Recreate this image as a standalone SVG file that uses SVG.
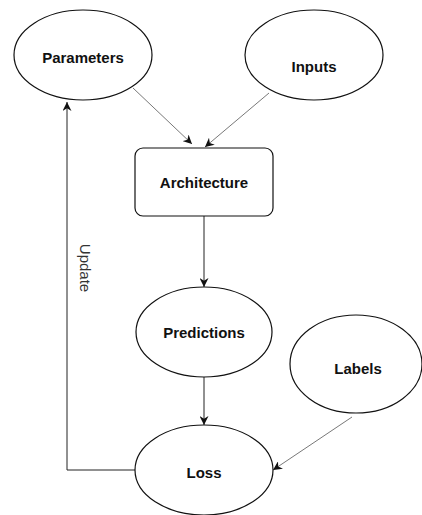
<svg xmlns="http://www.w3.org/2000/svg" width="422" height="515" viewBox="0 0 422 515">
<style>
.n{fill:#fff;stroke:#111;stroke-width:1.2}
.t{font-family:"Liberation Sans",Arial,sans-serif;font-size:15px;font-weight:bold;fill:#111;text-anchor:middle}
.c{fill:none;stroke:#222;stroke-width:1}
.d{fill:none;stroke:#555;stroke-width:0.8}
</style>
<defs>
<marker id="ah" viewBox="0 0 10 10" refX="10" refY="5" markerWidth="9" markerHeight="9" markerUnits="userSpaceOnUse" orient="auto">
<path d="M0,0 L10,5 L0,10 L3,5 Z" fill="#111"/>
</marker>
</defs>
<rect width="422" height="515" fill="#fff"/>
<g id="connectors">
<line class="d" x1="133" y1="88" x2="192" y2="144" marker-end="url(#ah)"/>
<line class="d" x1="269" y1="93" x2="205" y2="147" marker-end="url(#ah)"/>
<line class="c" x1="204" y1="216" x2="204" y2="287" marker-end="url(#ah)"/>
<line class="c" x1="204" y1="377" x2="204" y2="425" marker-end="url(#ah)"/>
<line class="d" x1="352" y1="417" x2="273" y2="470" marker-end="url(#ah)"/>
<polyline class="c" points="135,470 67,470 67,102" marker-end="url(#ah)"/>
<text x="85" y="268" transform="rotate(90 85 268)" font-family="Liberation Sans,Arial,sans-serif" font-size="15" fill="#333" text-anchor="middle" dominant-baseline="central">Update</text>
</g>
<g id="parameters">
<ellipse class="n" cx="83" cy="55" rx="69" ry="45"/>
<text class="t" x="83" y="63">Parameters</text>
</g>
<g id="inputs">
<ellipse class="n" cx="314" cy="55" rx="69" ry="45"/>
<text class="t" x="314" y="72">Inputs</text>
</g>
<g id="architecture">
<rect class="n" x="135" y="148" width="138" height="68" rx="8"/>
<text class="t" x="204" y="188">Architecture</text>
</g>
<g id="predictions">
<ellipse class="n" cx="204" cy="332" rx="68" ry="45"/>
<text class="t" x="204" y="338">Predictions</text>
</g>
<g id="labels">
<ellipse class="n" cx="356" cy="364" rx="66" ry="49"/>
<text class="t" x="358" y="374">Labels</text>
</g>
<g id="loss">
<ellipse class="n" cx="204" cy="470" rx="69" ry="45"/>
<text class="t" x="204" y="478">Loss</text>
</g>
</svg>
